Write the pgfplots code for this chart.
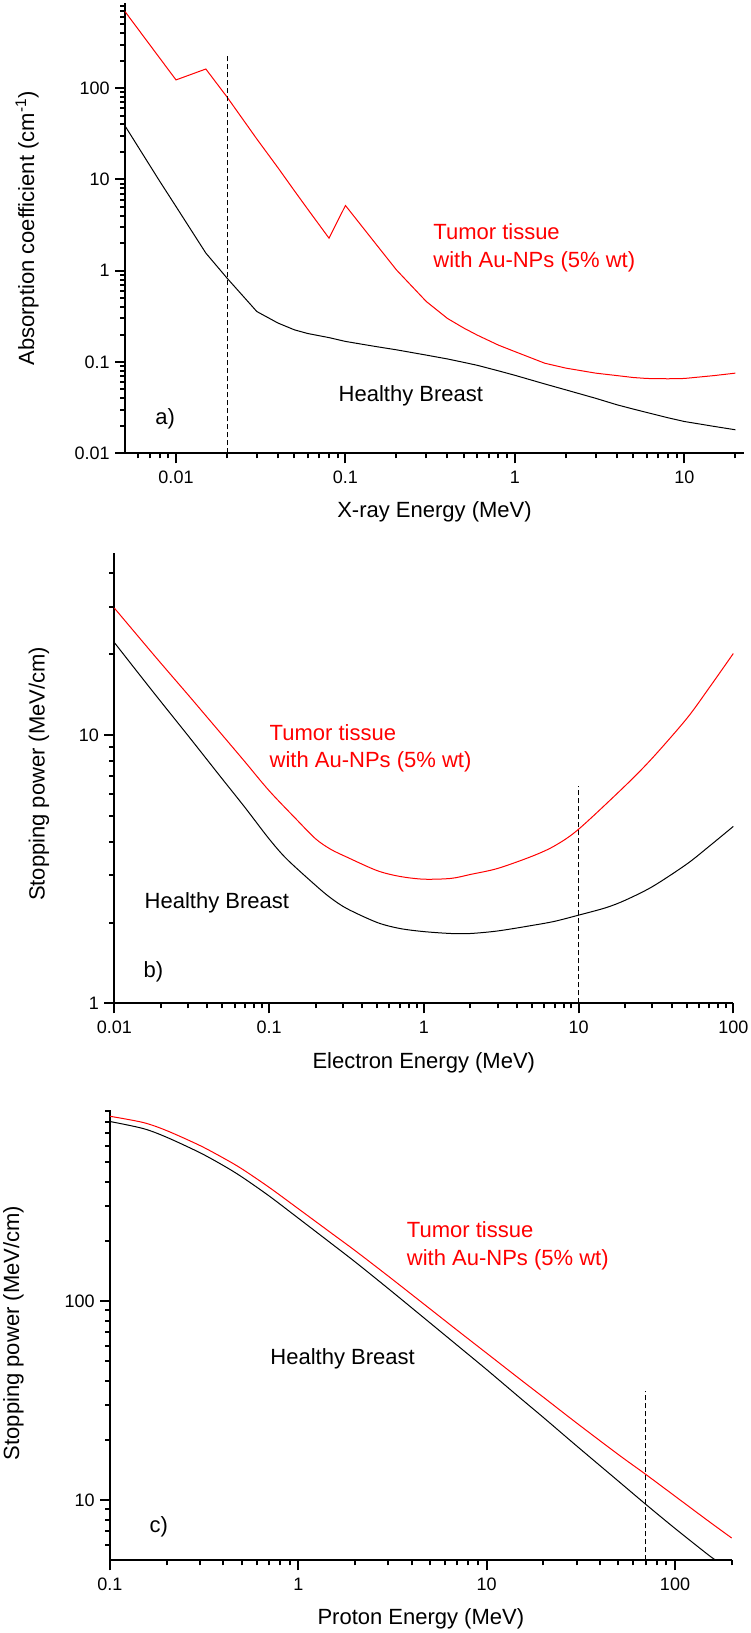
\documentclass[border=0pt]{standalone}
\usepackage{fontspec}
\setmainfont{Liberation Sans}
\usepackage{pgfplots}
\pgfplotsset{compat=1.18}
\pgfplotsset{
  every axis/.append style={
    scale only axis, anchor=south west, clip=false,
    axis lines*=left,
    axis line style={line width=1pt},
    tick align=outside,
    major tick length=5pt, minor tick length=2.5pt,
    every tick/.style={black, line width=1pt},
    xticklabel style={inner sep=0pt, anchor=north, yshift=-3.5pt, font=\fontsize{9}{10}\selectfont},
    yticklabel style={inner sep=0pt, anchor=east, xshift=-2.5pt, font=\fontsize{9}{10}\selectfont},
    label style={font=\fontsize{11}{13}\selectfont},
  },
}
\tikzset{
  redc/.style={red, line width=0.5pt},
  blackc/.style={black, line width=0.5pt},
  vline/.style={black, line width=0.5pt, dash pattern=on 2.4pt off 1.6pt},
  ann/.style={anchor=base west, inner sep=0pt, font=\fontsize{11}{13}\selectfont},
}
\begin{document}
\begin{tikzpicture}
\useasboundingbox (0,0) rectangle (375pt,816.5pt);
% ---------------- a) ----------------
\begin{loglogaxis}[
  at={(62.5pt,589.85pt)}, width=309.5pt, height=225pt,
  xmin=0.005, xmax=22.5, ymin=0.01, ymax=850,
  xtick={0.01,0.1,1,10}, xticklabels={0.01,0.1,1,10},
  minor xtick={0.006,0.007,0.008,0.009,0.02,0.03,0.04,0.05,0.06,0.07,0.08,0.09,0.2,0.3,0.4,0.5,0.6,0.7,0.8,0.9,2,3,4,5,6,7,8,9,20},
  ytick={0.01,0.1,1,10,100}, yticklabels={0.01,0.1,1,10,100},
  minor ytick={0.02,0.03,0.04,0.05,0.06,0.07,0.08,0.09,0.2,0.3,0.4,0.5,0.6,0.7,0.8,0.9,2,3,4,5,6,7,8,9,20,30,40,50,60,70,80,90,200,300,400,500,600,700,800},
  xlabel={X-ray Energy (MeV)},
  ylabel={Absorption coefficient (cm\textsuperscript{-1})},
  xlabel style={at={(axis description cs:0.5,-0.131)}, anchor=center},
  ylabel style={at={(axis description cs:-0.158,0.5)}, anchor=center},
]
\addplot[redc, mark=none] coordinates {
(0.005,690) (0.01,123) (0.015,162) (0.02,80) (0.03,27.7) (0.04,13.4) (0.05,7.5) (0.06,4.7) (0.08,2.27)
(0.1,5.18) (0.15,2.0) (0.2,1.02) (0.3,0.46) (0.4,0.30) (0.5,0.235) (0.6,0.197) (0.8,0.153)
(1,0.13) (1.5,0.097) (2,0.0857) (3,0.0755) (4,0.071) (5,0.0676) (6,0.066) (8,0.0655) (10,0.066) (15,0.071) (20,0.0755)};
\addplot[blackc, mark=none] coordinates {
(0.005,38.6) (0.006,22.5) (0.008,9.6) (0.01,5.05) (0.015,1.56) (0.02,0.83) (0.03,0.357) (0.04,0.267) (0.05,0.225)
(0.06,0.205) (0.08,0.185) (0.1,0.168) (0.15,0.148) (0.2,0.136) (0.3,0.119) (0.4,0.108) (0.5,0.099) (0.6,0.092) (0.8,0.080)
(1,0.0715) (1.5,0.0575) (2,0.0495) (3,0.040) (4,0.034) (5,0.0305) (6,0.028) (8,0.0245) (10,0.0223) (15,0.0197) (20,0.0181)};
\addplot[vline, mark=none] coordinates {(0.02,0.01) (0.02,232)};
\node[ann, text=red] at (rel axis cs:0.4976,0.474) {Tumor tissue};
\node[ann, text=red] at (rel axis cs:0.4976,0.4124) {with Au-NPs (5\% wt)};
\node[ann] at (rel axis cs:0.3446,0.115) {Healthy Breast};
\node[ann] at (rel axis cs:0.0485,0.063) {a)};
\end{loglogaxis}
% ---------------- b) ----------------
\begin{loglogaxis}[
  at={(57.15pt,314.85pt)}, width=309.5pt, height=225pt,
  xmin=0.01, xmax=100, ymin=1, ymax=47.5,
  xtick={0.01,0.1,1,10,100}, xticklabels={0.01,0.1,1,10,100},
  minor xtick={0.02,0.03,0.04,0.05,0.06,0.07,0.08,0.09,0.2,0.3,0.4,0.5,0.6,0.7,0.8,0.9,2,3,4,5,6,7,8,9,20,30,40,50,60,70,80,90},
  ytick={1,10}, yticklabels={1,10},
  minor ytick={2,3,4,5,6,7,8,9,20,30,40},
  xlabel={Electron Energy (MeV)},
  ylabel={Stopping power (MeV/cm)},
  xlabel style={at={(axis description cs:0.5,-0.133)}, anchor=center},
  ylabel style={at={(axis description cs:-0.1217,0.51)}, anchor=center},
]
\addplot[redc, smooth, mark=none] coordinates {
(0.01,29.7) (0.015,22.5) (0.02,18.5) (0.03,14.1) (0.04,11.6) (0.05,9.97) (0.07,7.93) (0.1,6.2) (0.15,4.85)
(0.2,4.1) (0.25,3.75) (0.32,3.5) (0.5,3.12) (0.7,2.97) (1,2.90) (1.5,2.92) (2,3.02) (3,3.18) (5,3.53) (7,3.86)
(10,4.45) (20,6.46) (30,8.2) (50,11.5) (70,15.0) (100,20.1)};
\addplot[blackc, smooth, mark=none] coordinates {
(0.01,22.1) (0.015,16.4) (0.02,13.3) (0.03,9.93) (0.04,8.05) (0.05,6.84) (0.07,5.36) (0.1,4.1) (0.13,3.45)
(0.2,2.75) (0.25,2.47) (0.32,2.25) (0.5,2.0) (0.7,1.9) (1,1.85) (1.5,1.82) (2,1.82) (3,1.86) (5,1.95) (7,2.02)
(10,2.13) (15,2.27) (20,2.42) (30,2.72) (50,3.3) (70,3.85) (100,4.56)};
\addplot[vline, mark=none] coordinates {(10,1) (10,6.46)};
\node[ann, text=red] at (rel axis cs:0.2504,0.5843) {Tumor tissue};
\node[ann, text=red] at (rel axis cs:0.2504,0.5246) {with Au-NPs (5\% wt)};
\node[ann] at (rel axis cs:0.0485,0.211) {Healthy Breast};
\node[ann] at (rel axis cs:0.0468,0.057) {b)};
\end{loglogaxis}
% ---------------- c) ----------------
\begin{loglogaxis}[
  at={(55pt,36.35pt)}, width=310.85pt, height=225pt,
  xmin=0.1, xmax=200, ymin=5, ymax=912,
  xtick={0.1,1,10,100}, xticklabels={0.1,1,10,100},
  minor xtick={0.2,0.3,0.4,0.5,0.6,0.7,0.8,0.9,2,3,4,5,6,7,8,9,20,30,40,50,60,70,80,90,200},
  ytick={10,100}, yticklabels={10,100},
  minor ytick={6,7,8,9,20,30,40,50,60,70,80,90,200,300,400,500,600,700,800,900},
  xlabel={Proton Energy (MeV)},
  ylabel={Stopping power (MeV/cm)},
  xlabel style={at={(axis description cs:0.5,-0.129)}, anchor=center},
  ylabel style={at={(axis description cs:-0.1555,0.505)}, anchor=center},
]
\addplot[redc, smooth, mark=none] coordinates {
(0.1,851) (0.15,792) (0.2,721) (0.3,607) (0.4,525) (0.5,464) (0.7,374) (1,292) (1.5,220) (2,180)
(3,134) (5,91.7) (7,71.4) (10,54.9) (15,40.7) (20,33.0) (30,24.5) (50,17.0) (70,13.5) (100,10.5) (150,7.89) (200,6.47)};
\addplot[blackc, smooth, mark=none] coordinates {
(0.1,801) (0.15,738.6) (0.2,667.6) (0.3,558.7) (0.4,481.2) (0.5,422.6) (0.7,338.4) (1,261.7) (1.5,195) (2,158)
(3,116) (5,78) (7,60) (10,45.4) (15,32.8) (20,26.1) (30,18.8) (50,12.5) (70,9.55) (100,7.23) (150,5.33) (165,5.0)};
\addplot[vline, mark=none] coordinates {(70,5) (70,35.6)};
\node[ann, text=red] at (rel axis cs:0.477,0.717) {Tumor tissue};
\node[ann, text=red] at (rel axis cs:0.477,0.6555) {with Au-NPs (5\% wt)};
\node[ann] at (rel axis cs:0.2574,0.434) {Healthy Breast};
\node[ann] at (rel axis cs:0.0632,0.0607) {c)};
\end{loglogaxis}
\end{tikzpicture}
\end{document}
